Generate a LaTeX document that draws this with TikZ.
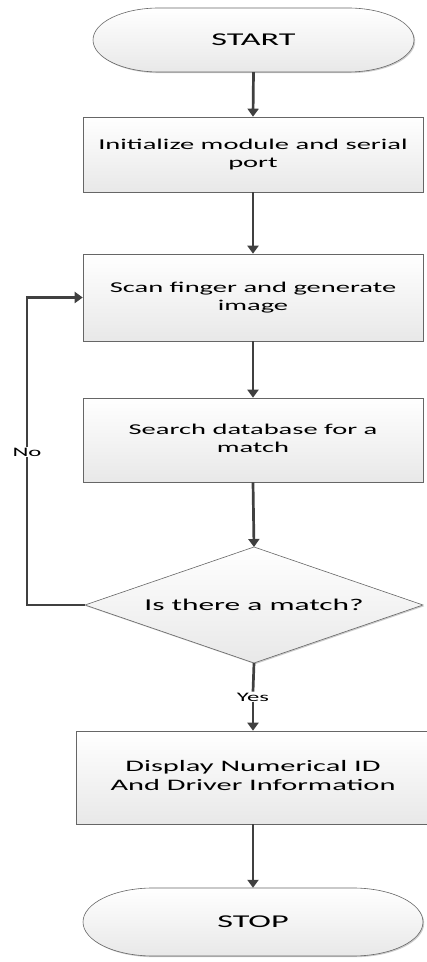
\documentclass[tikz,border=0pt]{standalone}
\usepackage{fontspec}
\usepackage{graphicx}
\setmainfont{Carlito}
\usetikzlibrary{arrows.meta,shadows}
\newcommand{\wt}[1]{\scalebox{1.9}[1]{#1}}
\newcommand{\termpath}[5]{%
  \path[termsty] ({#1-#3/2+#5},{#2+#4/2}) -- ({#1+#3/2-#5},{#2+#4/2})
    arc[start angle=90,end angle=-90,x radius=#5,y radius=#4/2]
    -- ({#1-#3/2+#5},{#2-#4/2})
    arc[start angle=270,end angle=90,x radius=#5,y radius=#4/2] -- cycle;}
\tikzset{
  x=1pt,y=1pt,
  fillsty/.style={top color=white,bottom color=black!9,draw=black!60,line width=0.6pt,
    drop shadow={shadow xshift=1.2pt,shadow yshift=-1.2pt,fill=black!40,opacity=0.5}},
  termsty/.style={fillsty},
  procbox/.style={fillsty,rectangle,inner sep=0pt,font=\fontsize{15}{18}\selectfont,align=center},
  dectext/.style={draw=none,inner sep=0pt,font=\fontsize{16.5}{18}\selectfont},
  termtext/.style={draw=none,inner sep=0pt,font=\fontsize{18}{20}\selectfont},
  lbl/.style={inner sep=1pt,font=\fontsize{13}{15}\selectfont,fill=white},
  flow/.style={draw=black!75,line width=2.7pt,-{Triangle[length=8pt,width=11pt]}},
  plain/.style={draw=black!75,line width=2.7pt},
}
\begin{document}
\begin{tikzpicture}
\useasboundingbox (0,0) rectangle (427,962);
% terminals
\termpath{253.5}{922}{321}{64}{66}
\node[termtext,minimum width=321pt,minimum height=64pt] (start) at (253.5,922) {\wt{START}};
\termpath{253}{40}{340}{68}{70}
\node[termtext,minimum width=340pt,minimum height=68pt] (stop) at (253,40) {\wt{STOP}};
% process boxes
\node[procbox,minimum width=340pt,minimum height=75pt] (init) at (253,807.5)
  {\wt{\begin{tabular}{@{}c@{}}Initialize module and serial\\port\end{tabular}}};
\node[procbox,minimum width=340pt,minimum height=87pt] (scan) at (253,664.5)
  {\wt{\begin{tabular}{@{}c@{}}Scan finger and generate\\image\end{tabular}}};
\node[procbox,minimum width=340pt,minimum height=84pt] (search) at (253,522)
  {\wt{\begin{tabular}{@{}c@{}}Search database for a\\match\end{tabular}}};
% decision diamond
\coordinate (dtop) at (254,415);
\coordinate (dbot) at (254,299);
\coordinate (dleft) at (85,357);
\coordinate (dright) at (423,357);
\path[fillsty] (dtop) -- (dright) -- (dbot) -- (dleft) -- cycle;
\node[dectext] (dec) at (254,357) {\wt{Is there a match?}};
\node[procbox,minimum width=354pt,minimum height=93pt,font=\fontsize{16}{19}\selectfont] (disp) at (253,184.5)
  {\wt{\begin{tabular}{@{}c@{}}Display Numerical ID\\And Driver Information\end{tabular}}};
% labels
\node[lbl,fill=none] (yes) at (253,265) {\wt{Yes}};
\coordinate (fb) at (27,357);
% connectors
\draw[flow] (start.south) -- (init.north);
\draw[flow] (init.south) -- (scan.north);
\draw[flow] (scan.south) -- (search.north);
\draw[flow] (search.south) -- (dtop);
\draw[plain] (dbot) -- (yes.north);
\draw[flow] (yes.south) -- (disp.north);
\draw[flow] (disp.south) -- (stop.north);
\draw[flow] (dleft) -- (fb) |- (scan.west);
\node[lbl] (no) at (27,510) {\wt{No}};
\end{tikzpicture}
\end{document}
